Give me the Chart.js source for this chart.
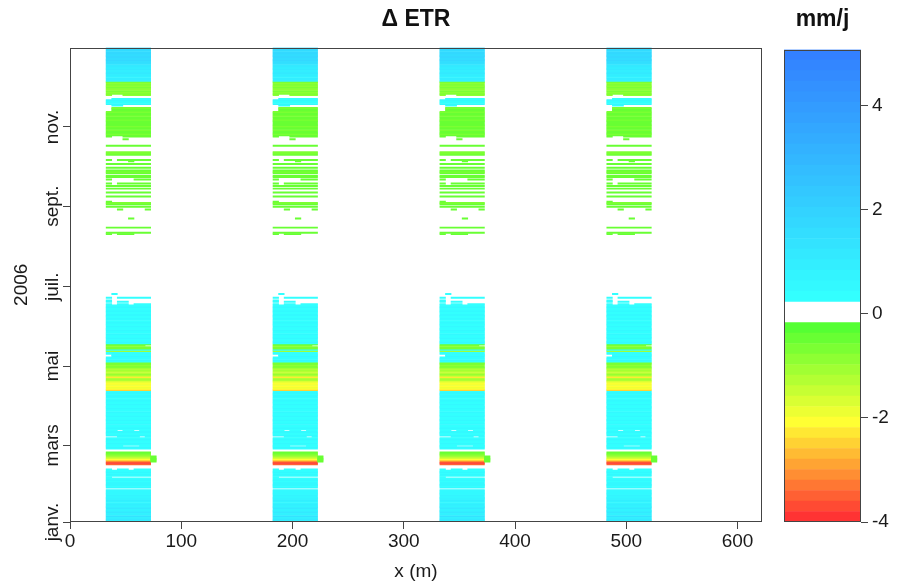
<!DOCTYPE html>
<html>
<head>
<meta charset="utf-8">
<script src="https://cdn.jsdelivr.net/npm/chart.js@4/dist/chart.umd.min.js"></script>
<style>
html,body{margin:0;padding:0;background:#fff;}
#wrap{position:relative;width:897px;height:587px;overflow:hidden;}
#main{position:absolute;left:0;top:0;}
#cb{position:absolute;left:770px;top:0;}
</style>
</head>
<body>
<div id="wrap">
<canvas id="main" width="770" height="587"></canvas>
<canvas id="cb" width="127" height="587"></canvas>
</div>
<script>
// ---------------- data ----------------
// y axis: day of year 2006 (0 = 1 janv.)
const monthTickDays = [0, 59, 120, 181, 243, 304];
const monthTickLabels = ['janv.', 'mars', 'mai', 'juil.', 'sept.', 'nov.'];
const xTickValues = [0, 100, 200, 300, 400, 500, 600];

// left edge (m) of each of the four measured strips, strip width 40 m
const stripStarts = [32.5, 182.5, 332.5, 482.5];
const stripWidth = 40;

// daily Δ ETR (mm/j), index = day of year, null = no data
const etr = [
/*0*/   1.2, 0.9, 1.1, 0.8, 1.3, 0.9, 0.7, 1.1, 1.0, 0.8,
/*10*/  1.2, 0.9, 0.7, 1.0, 0.8, 0.6, 0.9, 0.7, 0.8, 0.6,
/*20*/  0.7, 0.5, 0.6, 0.5, 0.6, null, 0.5, 0.4, 0.5, 0.6,
/*30*/  0.5, 0.4, 0.5, 0.4, 0.4, 0.4, 0.5, 0.4, 0.5, 0.4,
/*40*/  0.4, null, null, null, -3.4, -3.9, -3.2, -2.5, -2.0, -1.5,
/*50*/  -1.1, -0.8, -0.6, -0.5, null, null, 0.4, 0.5, 0.4, 0.4,
/*60*/  0.5, 0.4, 0.4, 0.5, 0.4, 0.4, 0.5, 0.4, 0.4, 0.5,
/*70*/  0.4, 0.4, 0.5, 0.4, 0.4, 0.5, 0.4, 0.4, 0.5, 0.4,
/*80*/  0.4, 0.5, 0.4, 0.4, 0.5, 0.4, 0.4, 0.5, 0.4, 0.4,
/*90*/  0.5, 0.4, 0.4, 0.5, 0.4, 0.4, 0.5, 0.6, 0.4, 0.5,
/*100*/ 0.4, -2.4, -2.0, -1.8, -2.1, -1.9, -2.0, -1.8, -1.6, -1.0,
/*110*/ -1.2, -2.3, -1.5, -0.8, -1.2, -1.4, -1.0, -1.3, -1.1, -0.6,
/*120*/ -0.9, -0.7, -0.6, 0.4, 0.5, 0.4, 0.4, 0.5, 0.4, 0.4,
/*130*/ 0.4, -1.0, 0.4, -0.7, -0.6, -0.8, -0.5, 0.4, 0.5, 0.4,
/*140*/ 0.4, 0.5, 0.4, 0.4, 0.5, 0.4, 0.4, 0.6, 0.4, 0.4,
/*150*/ 0.5, 0.4, 0.4, 0.5, 0.4, 0.4, 0.5, 0.4, 0.4, 0.5,
/*160*/ 0.4, 0.4, 0.5, 0.4, 0.4, 0.5, 0.4, 0.4, null, 0.4,
/*170*/ 0.4, null, 0.4, null, null, 0.4, null, null, null, null,
/*180*/ null, null, null, null, null, null, null, null, null, null,
/*190*/ null, null, null, null, null, null, null, null, null, null,
/*200*/ null, null, null, null, null, null, null, null, null, null,
/*210*/ null, null, null, null, null, null, null, null, null, null,
/*220*/ null, -0.5, -0.5, null, null, null, -0.5, null, null, null,
/*230*/ null, null, null, -0.5, null, null, null, null, null, null,
/*240*/ -0.5, null, -0.5, null, -0.5, -0.6, -0.5, null, null, null,
/*250*/ -0.5, null, null, -0.5, null, null, -0.5, null, -0.5, null,
/*260*/ -0.5, null, null, -0.5, null, -0.5, -0.5, null, -0.5, -0.6,
/*270*/ -0.5, null, -0.5, null, null, -0.5, null, -0.5, -0.5, null,
/*280*/ null, null, -0.5, -0.6, -0.6, null, null, null, null, -0.4,
/*290*/ null, null, null, null, -0.5, null, -0.5, -0.5, -0.6, -0.5,
/*300*/ -0.5, -0.6, -0.5, -0.5, -0.6, -0.5, -0.5, -0.4, -0.5, -0.6,
/*310*/ -0.5, -0.5, -0.6, -0.5, -0.5, -0.6, -0.5, -0.5, -0.6, null,
/*320*/ 0.4, 0.5, 0.4, 0.4, 0.5, 0.4, null, null, -0.8, -0.7,
/*330*/ -0.8, -0.7, -0.8, -0.9, -0.7, -0.8, -0.7, -0.8, -0.7, 0.8,
/*340*/ 0.9, 1.0, 0.8, 1.0, 0.9, 1.1, 1.0, 0.9, 1.1, 1.0,
/*350*/ 1.2, 1.1, 1.3, 1.6, 1.5, 1.7, 1.6, 1.8, 1.7, 1.6,
/*360*/ 1.8, 1.7, 1.6, 1.8, 1.7
];

// missing cells inside a strip: [day, from (m), to (m)] measured from strip start
const rowGaps = [
  [34, 5, 40], [40, 5, 10], [40, 20, 25], [58, 15, 30],
  [65, 0, 10], [65, 30, 35], [70, 10, 15], [70, 25, 30],
  [127, 0, 5], [128, 0, 5], [135, 35, 40],
  [167, 5, 10], [167, 20, 25], [169, 5, 10], [169, 20, 40], [170, 5, 40],
  [172, 5, 10], [175, 0, 5], [175, 10, 40],
  [221, 5, 10], [221, 25, 40], [233, 0, 20], [233, 25, 40],
  [240, 0, 10], [240, 15, 35], [246, 5, 40], [260, 5, 10], [263, 5, 25],
  [277, 0, 20], [277, 25, 40], [278, 5, 10],
  [294, 0, 15], [294, 20, 40], [296, 5, 15],
  [316, 0, 5], [317, 0, 5], [318, 0, 5],
  [320, 0, 5], [320, 15, 40], [325, 0, 5], [328, 5, 15]
];

// extra cell just right of each strip: [day, value]
const extraCells = [[46, -0.5], [47, -0.5], [48, -0.5], [49, -0.5], [50, -0.5]];
const extraCellRange = [40, 45];

// colour-bar class limits (mm/j)
const cbBreaks = [-4.000, -3.798, -3.596, -3.395, -3.193, -2.991, -2.789, -2.587, -2.386, -2.184,
  -1.982, -1.780, -1.578, -1.377, -1.175, -0.973, -0.771, -0.569, -0.368, -0.166,
  0.036, 0.238, 0.440, 0.641, 0.843, 1.045, 1.247, 1.449, 1.650, 1.852,
  2.054, 2.256, 2.458, 2.659, 2.861, 3.063, 3.265, 3.467, 3.668, 3.870,
  4.072, 4.274, 4.476, 4.677, 4.879, 5.081];
const cbTicks = [-4, -2, 0, 2, 4];

// ---------------- colours ----------------
const FONT = '"Liberation Sans", Arial, Helvetica, sans-serif';
Chart.defaults.font.family = FONT;
Chart.defaults.color = '#1a1a1a';
const AXIS = '#444';

function classColor(k) {
  const lo = cbBreaks[k], hi = cbBreaks[k + 1];
  if (hi <= 0.24 && lo >= -0.17) return null;           // white classes around 0
  if (hi <= 0) {                                          // negative: green -> yellow -> red
    const j = 18 - k;
    let r = 255, g = 255;
    if (j <= 9) r = Math.round(85 + 170 * j / 9);
    else g = Math.round(255 - 204 * (j - 9) / 9);
    return `rgb(${r},${g},51)`;
  }
  const i = k - 21;                                       // positive: cyan -> blue
  const g = Math.round(255 - 127 * i / 23);
  return `rgb(51,${g},255)`;
}
function valueColor(v) {
  for (let k = 0; k < cbBreaks.length - 1; k++) {
    if (v >= cbBreaks[k] && v < cbBreaks[k + 1]) return classColor(k);
  }
  return v < cbBreaks[0] ? classColor(0) : classColor(cbBreaks.length - 2);
}

function segmentsFor(day) {
  let segs = [[0, stripWidth]];
  for (const [d, a, b] of rowGaps) {
    if (d !== day) continue;
    const next = [];
    for (const [s, e] of segs) {
      if (b <= s || a >= e) { next.push([s, e]); continue; }
      if (a > s) next.push([s, a]);
      if (b < e) next.push([b, e]);
    }
    segs = next;
  }
  return segs;
}

const datasets = stripStarts.map((x0) => {
  const data = [], colors = [];
  etr.forEach((v, day) => {
    if (v === null) return;
    const c = valueColor(v);
    if (!c) return;
    for (const [s, e] of segmentsFor(day)) {
      data.push({ x: [x0 + s, x0 + e], y: day + 0.5 });
      colors.push(c);
    }
  });
  for (const [day, v] of extraCells) {
    data.push({ x: [x0 + extraCellRange[0], x0 + extraCellRange[1]], y: day + 0.5 });
    colors.push(valueColor(v));
  }
  return {
    data, backgroundColor: colors, borderWidth: 0, grouped: false,
    barPercentage: 1, categoryPercentage: 1
  };
});

const framePlugin = {
  id: 'frame',
  afterDatasetsDraw(chart) {
    const { ctx, chartArea: a } = chart;
    ctx.save();
    ctx.strokeStyle = AXIS;
    ctx.lineWidth = 1;
    ctx.strokeRect(Math.round(a.left) + 0.5, Math.round(a.top) + 0.5,
      Math.round(a.right) - Math.round(a.left) - 1, Math.round(a.bottom) - Math.round(a.top) - 1);
    ctx.restore();
  }
};

new Chart(document.getElementById('main'), {
  type: 'bar',
  data: { datasets },
  options: {
    indexAxis: 'y',
    responsive: false,
    animation: false,
    layout: { padding: { left: 0, right: 8, top: 0, bottom: 0 } },
    plugins: {
      legend: { display: false },
      tooltip: { enabled: false },
      title: {
        display: true, text: 'Δ ETR', fullSize: false, color: '#111',
        font: { size: 23, weight: 'bold', family: FONT },
        padding: { top: 6, bottom: 14 }
      }
    },
    scales: {
      x: {
        type: 'linear', position: 'bottom', min: 0, max: 622,
        afterBuildTicks: (s) => { s.ticks = xTickValues.map(v => ({ value: v })); },
        afterFit: (s) => { s.height = 65; },
        grid: { display: true, drawOnChartArea: false, drawTicks: true, tickLength: 7, color: AXIS, offset: false },
        border: { display: false },
        ticks: { font: { size: 19 }, color: '#1a1a1a', padding: 1, maxRotation: 0, autoSkip: false },
        title: { display: true, text: 'x (m)', font: { size: 19 }, color: '#1a1a1a', padding: { top: 0, bottom: 4 } }
      },
      y: {
        type: 'linear', position: 'left', min: 0, max: 365, offset: false,
        afterBuildTicks: (s) => { s.ticks = monthTickDays.map(v => ({ value: v })); },
        afterFit: (s) => { s.width = 70; },
        grid: { display: true, drawOnChartArea: false, drawTicks: true, tickLength: 7, color: AXIS, offset: false },
        border: { display: false },
        ticks: {
          callback: (v, i) => monthTickLabels[i],
          minRotation: 90, maxRotation: 90, crossAlign: 'center', padding: -11,
          autoSkip: false, font: { size: 19 }, color: '#1a1a1a'
        },
        title: { display: true, text: '2006', font: { size: 19 }, color: '#1a1a1a', padding: { top: 10, bottom: 0 } }
      }
    }
  },
  plugins: [framePlugin]
});

// ---------------- colour bar ----------------
const cbDatasets = [];
for (let k = 0; k < cbBreaks.length - 1; k++) {
  const c = classColor(k);
  if (!c) continue;
  cbDatasets.push({
    data: [[cbBreaks[k], cbBreaks[k + 1]]],
    backgroundColor: c, borderWidth: 0, grouped: false,
    barPercentage: 1, categoryPercentage: 1
  });
}

new Chart(document.getElementById('cb'), {
  type: 'bar',
  data: { labels: [''], datasets: cbDatasets },
  options: {
    responsive: false,
    animation: false,
    layout: { padding: { left: 14, right: 0, top: 0, bottom: 65 } },
    plugins: {
      legend: { display: false },
      tooltip: { enabled: false },
      title: {
        display: true, text: 'mm/j', fullSize: false, color: '#111',
        font: { size: 23, weight: 'bold', family: FONT },
        padding: { top: 6, bottom: 16 }
      }
    },
    scales: {
      x: { display: false },
      y: {
        type: 'linear', position: 'right', min: cbBreaks[0], max: cbBreaks[cbBreaks.length - 1],
        afterBuildTicks: (s) => { s.ticks = cbTicks.map(v => ({ value: v })); },
        afterFit: (s) => { s.width = 36; },
        grid: { display: true, drawOnChartArea: false, drawTicks: true, tickLength: 7, color: AXIS },
        border: { display: false },
        ticks: { font: { size: 19 }, color: '#1a1a1a', padding: 4, autoSkip: false }
      }
    }
  },
  plugins: [framePlugin]
});
</script>
</body>
</html>
